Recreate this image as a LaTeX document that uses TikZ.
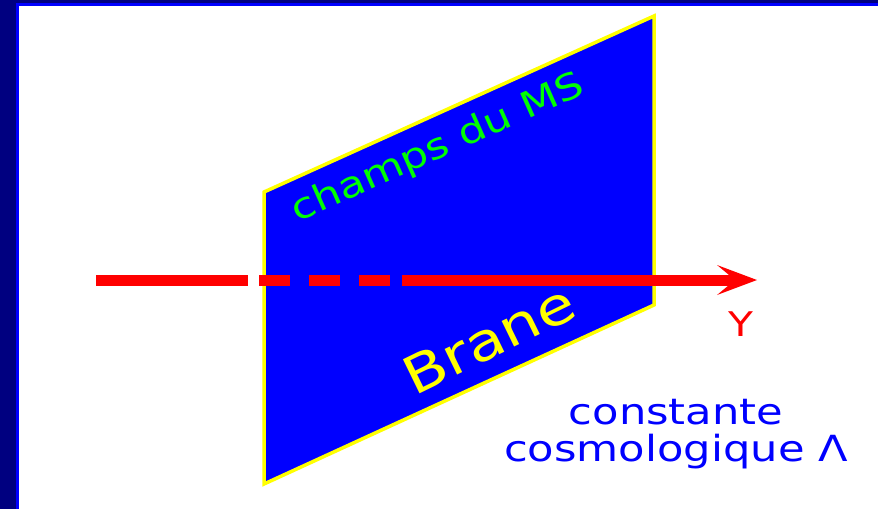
\documentclass[tikz,border=0pt]{standalone}
\usepackage{fontspec}
\usepackage{tikz}
\usetikzlibrary{arrows.meta}
\newfontfamily\handfont[FakeStretch=1.2]{DejaVu Sans}
\definecolor{framenavy}{RGB}{0,0,128}
\definecolor{braneblue}{RGB}{0,0,255}
\definecolor{fieldgreen}{RGB}{0,255,0}
\definecolor{braneyellow}{RGB}{255,255,0}
\definecolor{axisred}{RGB}{255,0,0}

\begin{document}
\begin{tikzpicture}[
  x=1pt, y=-1pt,
  brane/.style={fill=braneblue, draw=braneyellow, line width=3.5pt},
  axisline/.style={draw=axisred, line width=11pt},
  hand/.style={font=\handfont\fontsize{36}{37}\selectfont, inner sep=0pt},
  >={Stealth[length=40pt, width=30pt, inset=18pt, line width=0pt]}
]
\useasboundingbox (0,0) rectangle (878,509);
% slide frame
\fill[framenavy] (0,0) rectangle (878,3);
\fill[framenavy] (0,0) rectangle (16,509);
\fill[braneblue] (16,3) rectangle (878,6);
\fill[braneblue] (16,3) rectangle (19,509);
% the brane
\path[brane] (264,192) -- (654,16) -- (654,305) -- (264,484) -- cycle;
% extra dimension
\coordinate (y0) at (96,280);
\coordinate (y1) at (248,280);
\coordinate (y2) at (259,280);
\coordinate (y3) at (391,280);
\coordinate (y4) at (402,280);
\coordinate (y5) at (757,280);
\draw[axisline] (y0) -- (y1);
\draw[axisline, dash pattern=on 31pt off 19pt] (y2) -- (y3);
\draw[axisline, ->] (y4) -- (y5);
\node[hand, text=axisred, font=\handfont\fontsize{34}{36}\selectfont] (ylabel) at (741,324) {Y};
% labels
\node[hand, text=fieldgreen, anchor=base, rotate=24] (champs) at (442,158) {champs du MS};
\node[hand, text=braneyellow, anchor=base, rotate=26, font=\handfont\fontsize{52}{54}\selectfont] (branelabel) at (497,356) {Brane};
\node[hand, text=braneblue, align=center] (lambda) at (676,434) {constante\\cosmologique Λ};
\end{tikzpicture}
\end{document}
